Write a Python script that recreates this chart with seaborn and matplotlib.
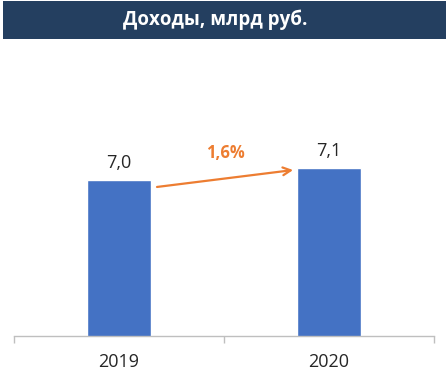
import matplotlib
matplotlib.use("Agg")
import matplotlib.pyplot as plt
import seaborn as sns
import pandas as pd
from matplotlib.patches import Rectangle

years = ["2019", "2020"]
values = [7.0, 7.1]
value_labels = ["7,0", "7,1"]
growth_label = "1,6%"
title = "Доходы, млрд руб."

sns.set_theme(style="white")
plt.rcParams["font.family"] = ["Open Sans", "DejaVu Sans"]

fig = plt.figure(figsize=(4.46, 3.87), dpi=100)
ax = fig.add_axes([14/446, 1 - 336/387, 420/446, 276/387])

df = pd.DataFrame({"year": years, "value": values})
sns.barplot(data=df, x="year", y="value", color="#4472C4", saturation=1,
            width=0.305, ax=ax)

ax.set_xlim(-0.5, 1.5)
ax.set_ylim(5.7, 8.0)
ax.set_xlabel("")
ax.set_ylabel("")
ax.set_yticks([])
for s in ["top", "left", "right"]:
    ax.spines[s].set_visible(False)
ax.spines["bottom"].set_color("#BFBFBF")
ax.spines["bottom"].set_linewidth(1.0)

ax.set_xticks([-0.5, 0.5, 1.5], minor=True)
ax.tick_params(axis="x", which="minor", length=5, width=1.0, color="#BFBFBF",
               direction="out", bottom=True)
ax.tick_params(axis="x", which="major", length=0, pad=12, labelsize=13,
               labelcolor="#262626")

for i, (v, lab) in enumerate(zip(values, value_labels)):
    ax.annotate(lab, xy=(i, v), xytext=(0, 6), textcoords="offset points",
                ha="center", va="bottom", fontsize=13, color="#262626")

# growth arrow between bars
ax.annotate("", xy=(0.829, 7.083), xytext=(0.181, 6.942),
            arrowprops=dict(arrowstyle="->", color="#ED7D31", lw=1.6,
                            mutation_scale=14, shrinkA=0, shrinkB=0))
ax.text(0.505, 7.225, growth_label, ha="center", va="center", fontsize=12,
        fontweight="bold", color="#ED7D31")

# title bar
fig.patches.append(Rectangle((3/446, 1 - 39/387), 443/446, 38/387,
                             transform=fig.transFigure, facecolor="#243F60",
                             edgecolor="none", zorder=0))
fig.text(215/446, 1 - 20/387, title, ha="center", va="center",
         fontsize=13.5, fontweight="bold", color="white")

fig.savefig("out.png", dpi=100)
